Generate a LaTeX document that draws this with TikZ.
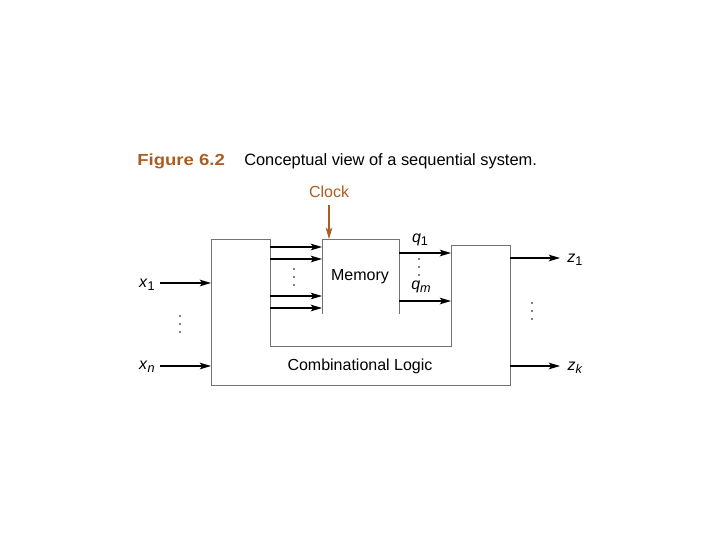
\documentclass[tikz,border=0pt]{standalone}
\usepackage{fontspec}
\setmainfont{Liberation Sans}
\usetikzlibrary{arrows.meta}
\definecolor{figbrown}{RGB}{172,92,32}
\newcommand{\varsub}[2]{\textit{#1}\raisebox{-0.35ex}{\fontsize{9.5pt}{10pt}\selectfont #2}}
\begin{document}
\begin{tikzpicture}[x=0.75pt,y=-0.75pt,
  boxline/.style={draw=black!55, line width=0.75pt},
  sig/.style={draw=black, line width=0.8pt, -{Stealth[length=8.5pt,width=5pt,inset=2pt]}},
  lbl/.style={inner sep=0pt, font=\fontsize{12pt}{14pt}\selectfont},
  vdot/.style={fill=black, circle, inner sep=0pt, minimum size=1.4pt}]
\useasboundingbox (0,0) rectangle (720,540);
% title
\node[lbl, anchor=west, text=figbrown] (figno) at (137,161) {\scalebox{1.16}[1]{\textbf{Figure 6.2}}};
\node[lbl, anchor=west, font=\fontsize{12.3pt}{14pt}\selectfont] (caption) at (244,161) {Conceptual view of a sequential system.};
% combinational logic outline
\draw[boxline] (211,239) -- (270,239) -- (270,346) -- (451,346) -- (451,245) -- (510,245) -- (510,385) -- (211,385) -- cycle;
\node[lbl] (cl) at (360,366) {Combinational Logic};
% memory
\draw[boxline] (322,314) -- (322,239) -- (399,239) -- (399,314);
\node[lbl] (mem) at (360,277) {Memory};
% clock
\node[lbl, text=figbrown] (clock) at (329,192) {Clock};
\coordinate (clkin) at (329,239);
\draw[draw=figbrown, line width=0.8pt, -{Stealth[length=8.5pt,width=5pt,inset=2pt]}] (329,205) -- (clkin);
% memory inputs
\foreach \y/\n in {247/a,259/b,296/c,308/d}{
  \coordinate (mi\n s) at (270,\y);
  \coordinate (mi\n e) at (322,\y);
  \draw[sig] (mi\n s) -- (mi\n e);
}
\foreach \y in {269,277,285}{\node[vdot] at (294,\y) {};}
% memory outputs
\coordinate (q1s) at (399,253); \coordinate (q1e) at (451,253);
\coordinate (qms) at (399,301); \coordinate (qme) at (451,301);
\draw[sig] (q1s) -- (q1e);
\draw[sig] (qms) -- (qme);
\node[lbl] (q1) at (420,240) {\varsub{q}{1}};
\node[lbl] (qm) at (421,287) {\textit{q}\raisebox{-0.35ex}{\fontsize{9.5pt}{10pt}\selectfont\textit{m}}};
\foreach \y in {259,267,275}{\node[vdot] at (419,\y) {};}
% primary inputs
\node[lbl] (x1) at (147,285) {\varsub{x}{1}};
\node[lbl] (xn) at (147,367) {\textit{x}\raisebox{-0.35ex}{\fontsize{9.5pt}{10pt}\selectfont\textit{n}}};
\coordinate (x1s) at (160,283); \coordinate (xns) at (160,366);
\coordinate (x1e) at (211,283); \coordinate (xne) at (211,366);
\draw[sig] (x1s) -- (x1e);
\draw[sig] (xns) -- (xne);
\foreach \y in {316,324,332}{\node[vdot] at (180,\y) {};}
% outputs
\node[lbl] (z1) at (575,260) {\varsub{z}{1}};
\node[lbl] (zk) at (575,368) {\textit{z}\raisebox{-0.35ex}{\fontsize{9.5pt}{10pt}\selectfont\textit{k}}};
\coordinate (z1s) at (510,258); \coordinate (zks) at (510,366);
\coordinate (z1e) at (560,258); \coordinate (zke) at (560,366);
\draw[sig] (z1s) -- (z1e);
\draw[sig] (zks) -- (zke);
\foreach \y in {303,311,319}{\node[vdot] at (532,\y) {};}
\end{tikzpicture}
\end{document}
